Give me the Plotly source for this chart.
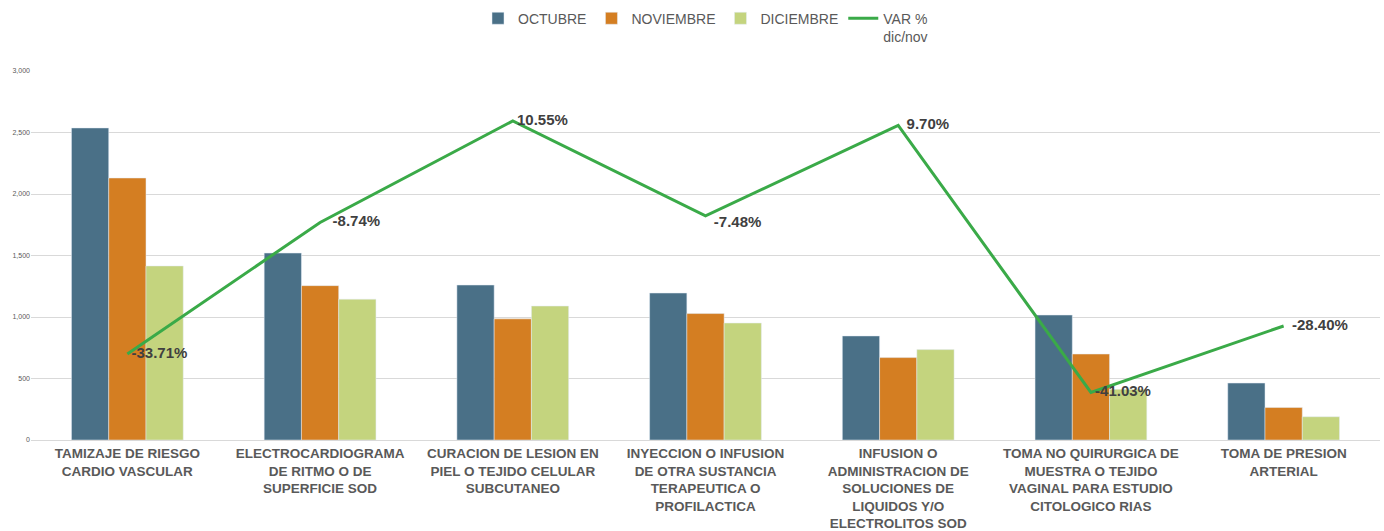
import plotly.graph_objects as go

categories = [
    "TAMIZAJE DE RIESGO<br>CARDIO VASCULAR",
    "ELECTROCARDIOGRAMA<br>DE RITMO O DE<br>SUPERFICIE SOD",
    "CURACION DE LESION EN<br>PIEL O TEJIDO CELULAR<br>SUBCUTANEO",
    "INYECCION O INFUSION<br>DE OTRA SUSTANCIA<br>TERAPEUTICA O<br>PROFILACTICA",
    "INFUSION O<br>ADMINISTRACION DE<br>SOLUCIONES DE<br>LIQUIDOS Y/O<br>ELECTROLITOS SOD",
    "TOMA NO QUIRURGICA DE<br>MUESTRA O TEJIDO<br>VAGINAL PARA ESTUDIO<br>CITOLOGICO RIAS",
    "TOMA DE PRESION<br>ARTERIAL",
]
octubre = [2537, 1520, 1260, 1195, 846, 1016, 463]
noviembre = [2130, 1255, 985, 1028, 670, 699, 264]
diciembre = [1415, 1145, 1089, 951, 735, 412, 189]
var_pct = [-33.71, -8.74, 10.55, -7.48, 9.70, -41.03, -28.40]
var_labels = [" -33.71%", "   -8.74%", " 10.55%", "  -7.48%", "  9.70%", " -41.03%", "  -28.40%"]
label_pos = ["middle right", "middle right", "middle right", "bottom right",
             "middle right", "middle right", "middle right"]

fig = go.Figure()
fig.add_trace(go.Bar(x=categories, y=octubre, name="OCTUBRE", marker_color="#4A7087"))
fig.add_trace(go.Bar(x=categories, y=noviembre, name="NOVIEMBRE", marker_color="#D47E22"))
fig.add_trace(go.Bar(x=categories, y=diciembre, name="DICIEMBRE", marker_color="#C4D47E"))
fig.add_trace(go.Scatter(
    x=categories, y=var_pct, name="VAR %<br>dic/nov", yaxis="y2",
    mode="lines+text", line=dict(color="#3AAA48", width=3),
    text=var_labels, textposition=label_pos,
    textfont=dict(family="Liberation Sans, Arial", size=15, color="#404040", weight="bold"),
))

fig.update_layout(
    width=1384, height=531,
    margin=dict(l=31, r=4, t=71, b=91, autoexpand=False),
    plot_bgcolor="white", paper_bgcolor="white",
    barmode="group", bargap=0.42, bargroupgap=0,
    font=dict(family="Liberation Sans, Arial", color="#595959"),
    legend=dict(orientation="h", x=0.5, xanchor="center", y=0.995, yanchor="top",
                yref="container", font=dict(size=14, color="#595959"),
                traceorder="normal", valign="top"),
    xaxis=dict(tickfont=dict(family="Liberation Sans Narrow, Arial Narrow, Liberation Sans", size=13.5,
                             color="#595959", weight="bold"),
               showline=True, linecolor="#D9D9D9", linewidth=1, ticks="", automargin=False,
               ticklabelstandoff=1),
    yaxis=dict(range=[0, 3000], dtick=500, tickformat=",", showgrid=True, gridcolor="#D9D9D9",
               tickfont=dict(size=7, color="#595959"), zeroline=False, ticks="", automargin=False),
    yaxis2=dict(range=[-50.06, 20.04], overlaying="y", side="right", visible=False,
                showgrid=False, zeroline=False, automargin=False),
)
fig.write_html("out.html", post_script="document.body.style.margin='0';",
               config={"displayModeBar": False})
